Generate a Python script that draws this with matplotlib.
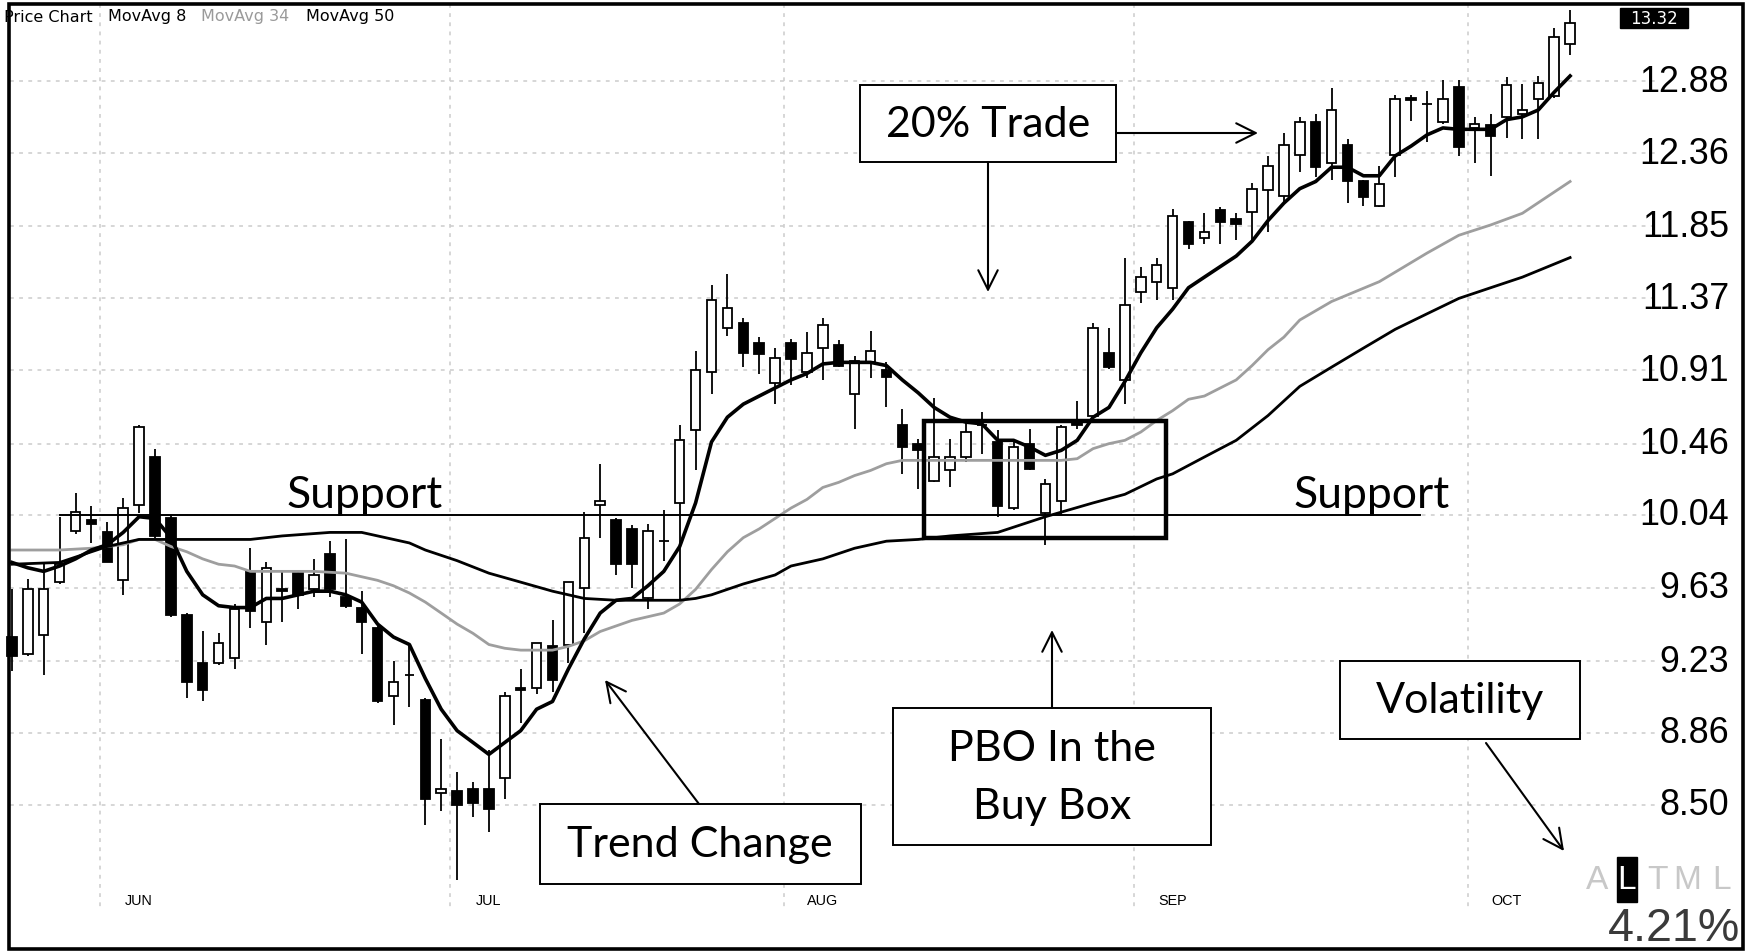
import numpy as np
import matplotlib
matplotlib.use('Agg')
import matplotlib.pyplot as plt
import matplotlib.transforms as mtransforms
from matplotlib import font_manager
from matplotlib.patches import Rectangle, FancyArrowPatch

# daily candles, Jun 2010 - Oct 2010 (first one is cut by the frame)
opens = [9.36, 9.27, 9.37, 9.66, 9.95, 10.01, 9.94, 9.67, 10.10, 10.38,
         10.02, 9.48, 9.22, 9.22, 9.25, 9.72, 9.44, 9.62, 9.71, 9.62,
         9.82, 9.58, 9.52, 9.41, 9.05, 9.16, 9.03, 8.56, 8.57, 8.58,
         8.58, 8.63, 9.09, 9.09, 9.31, 9.32, 9.63, 10.10, 10.01, 9.96,
         9.57, 9.89, 10.11, 10.54, 10.90, 11.18, 11.21, 11.08, 10.83, 11.08,
         10.90, 11.05, 11.07, 10.76, 10.96, 10.91, 10.57, 10.46, 10.24, 10.30,
         10.38, 10.57, 10.47, 10.08, 10.46, 10.05, 10.12, 10.60, 10.63, 11.02,
         10.85, 11.41, 11.48, 11.44, 11.88, 11.77, 11.96, 11.90, 11.95, 12.10,
         12.06, 12.35, 12.58, 12.29, 12.42, 12.16, 11.99, 12.35, 12.76, 12.71,
         12.58, 12.84, 12.54, 12.56, 12.62, 12.64, 12.75, 12.77, 13.16]
highs = [9.62, 9.68, 9.77, 10.03, 10.17, 10.09, 10.00, 10.14, 10.57, 10.43,
         10.04, 9.49, 9.39, 9.38, 9.54, 9.85, 9.77, 9.73, 9.72, 9.79,
         9.89, 9.90, 9.61, 9.42, 9.23, 9.31, 9.04, 8.83, 8.66, 8.61,
         8.77, 9.07, 9.19, 9.33, 9.45, 9.66, 10.06, 10.34, 10.02, 9.98,
         9.99, 10.07, 10.57, 11.03, 11.46, 11.53, 11.24, 11.12, 11.05, 11.11,
         11.15, 11.24, 11.10, 11.00, 11.16, 10.96, 10.67, 10.49, 10.74, 10.49,
         10.59, 10.65, 10.54, 10.47, 10.55, 10.25, 10.57, 10.72, 11.21, 11.18,
         11.64, 11.58, 11.64, 11.97, 11.89, 11.94, 11.98, 11.94, 12.15, 12.34,
         12.50, 12.62, 12.64, 12.83, 12.46, 12.17, 12.27, 12.78, 12.78, 12.81,
         12.89, 12.89, 12.62, 12.64, 12.91, 12.86, 12.92, 13.28, 13.42]
lows = [9.18, 9.26, 9.16, 9.65, 9.93, 9.88, 9.77, 9.59, 10.05, 9.91,
        9.47, 9.04, 9.02, 9.21, 9.19, 9.41, 9.32, 9.44, 9.51, 9.58,
        9.58, 9.52, 9.27, 9.01, 8.90, 8.99, 8.40, 8.47, 8.14, 8.44,
        8.37, 8.53, 8.91, 9.06, 9.07, 9.22, 9.38, 9.91, 9.70, 9.63,
        9.51, 9.78, 9.56, 10.30, 10.76, 11.13, 10.93, 10.89, 10.70, 10.82,
        10.86, 10.85, 10.93, 10.55, 10.86, 10.68, 10.28, 10.19, 10.23, 10.20,
        10.35, 10.40, 10.03, 10.07, 10.30, 9.87, 10.04, 10.55, 10.61, 10.92,
        10.70, 11.34, 11.36, 11.36, 11.70, 11.73, 11.73, 11.76, 11.75, 11.81,
        12.02, 12.23, 12.19, 12.17, 12.01, 11.99, 11.98, 12.19, 12.59, 12.44,
        12.57, 12.34, 12.29, 12.20, 12.47, 12.46, 12.46, 12.76, 13.08]
closes = [9.26, 9.62, 9.62, 9.76, 10.06, 9.99, 9.77, 10.08, 10.56, 9.92,
          9.48, 9.12, 9.08, 9.33, 9.51, 9.50, 9.74, 9.61, 9.59, 9.70,
          9.62, 9.53, 9.44, 9.02, 9.12, 9.16, 8.53, 8.58, 8.50, 8.51,
          8.48, 9.05, 9.08, 9.33, 9.13, 9.66, 9.91, 10.12, 9.76, 9.76,
          9.95, 9.89, 10.48, 10.91, 11.36, 11.31, 11.02, 11.01, 10.99, 10.98,
          11.02, 11.20, 10.94, 10.97, 11.03, 10.87, 10.44, 10.42, 10.38, 10.38,
          10.53, 10.57, 10.09, 10.44, 10.31, 10.22, 10.56, 10.57, 11.18, 10.93,
          11.33, 11.51, 11.59, 11.92, 11.73, 11.81, 11.88, 11.87, 12.11, 12.27,
          12.42, 12.58, 12.26, 12.67, 12.16, 12.05, 12.14, 12.75, 12.74, 12.71,
          12.75, 12.40, 12.57, 12.48, 12.85, 12.67, 12.87, 13.21, 13.32]

# moving averages
ma8 = [9.77, 9.74, 9.72, 9.75, 9.79, 9.84, 9.87, 9.94, 10.03, 10.02,
       9.91, 9.72, 9.59, 9.53, 9.52, 9.52, 9.57, 9.57, 9.59, 9.61,
       9.61, 9.59, 9.55, 9.43, 9.36, 9.32, 9.14, 8.98, 8.87, 8.81,
       8.75, 8.81, 8.87, 8.98, 9.02, 9.19, 9.35, 9.49, 9.56, 9.57,
       9.64, 9.72, 9.86, 10.11, 10.47, 10.62, 10.70, 10.75, 10.80, 10.85,
       10.89, 10.95, 10.96, 10.96, 10.96, 10.94, 10.85, 10.77, 10.68, 10.62,
       10.59, 10.58, 10.48, 10.48, 10.44, 10.39, 10.42, 10.48, 10.62, 10.68,
       10.84, 11.02, 11.18, 11.30, 11.44, 11.51, 11.58, 11.65, 11.75, 11.89,
       12.01, 12.11, 12.16, 12.26, 12.26, 12.20, 12.20, 12.34, 12.41, 12.49,
       12.54, 12.53, 12.53, 12.53, 12.60, 12.62, 12.67, 12.80, 12.92]
ma34_day = [1, 4, 6, 8, 9, 10, 11, 12, 13, 14, 15, 16, 18, 20, 22, 23, 24, 25, 26, 27,
            28, 29, 30, 31, 32, 33, 35, 36, 37, 38, 39, 40, 41, 42, 43, 44, 45, 46, 47, 48,
            49, 50, 51, 52, 53, 54, 55, 56, 57, 60, 67, 68, 69, 70, 71, 72, 73, 74, 75, 76,
            77, 78, 79, 80, 81, 82, 84, 87, 90, 92, 94, 96, 99]
ma34 = [9.84, 9.84, 9.85, 9.87, 9.90, 9.90, 9.86, 9.83, 9.79, 9.76, 9.75, 9.72, 9.72, 9.72, 9.71, 9.69, 9.67, 9.64, 9.60, 9.55,
        9.49, 9.43, 9.38, 9.32, 9.30, 9.29, 9.29, 9.31, 9.34, 9.39, 9.42, 9.45, 9.47, 9.49, 9.54, 9.62, 9.73, 9.83, 9.91, 9.96,
        10.02, 10.08, 10.13, 10.20, 10.23, 10.27, 10.30, 10.34, 10.36, 10.36, 10.36, 10.37, 10.43, 10.46, 10.48, 10.53, 10.60, 10.66, 10.73, 10.75,
        10.80, 10.85, 10.94, 11.04, 11.12, 11.23, 11.35, 11.48, 11.67, 11.79, 11.86, 11.94, 12.16]
ma50_day = [1, 4, 7, 9, 16, 18, 21, 23, 24, 26, 27, 29, 31, 33, 35, 37, 39, 43, 44, 45,
            46, 47, 49, 50, 52, 54, 56, 58, 60, 63, 66, 69, 71, 73, 74, 76, 78, 80, 82, 84,
            86, 88, 90, 92, 94, 96, 99]
ma50 = [9.76, 9.77, 9.86, 9.90, 9.90, 9.92, 9.94, 9.94, 9.92, 9.88, 9.84, 9.78, 9.71, 9.66, 9.61, 9.57, 9.56, 9.56, 9.57, 9.59,
        9.62, 9.65, 9.70, 9.75, 9.79, 9.85, 9.89, 9.90, 9.92, 9.94, 10.03, 10.11, 10.16, 10.25, 10.28, 10.38, 10.48, 10.63, 10.81, 10.93,
        11.05, 11.17, 11.27, 11.37, 11.44, 11.51, 11.64]

price_ticks = [8.50, 8.86, 9.23, 9.63, 10.04, 10.46, 10.91, 11.37, 11.85, 12.36, 12.88]
month_names = ['JUN', 'JUL', 'AUG', 'SEP', 'OCT']
month_first_day = [7, 29, 50, 72, 93]
support_level = 10.04
last_price = '13.32'
volatility = '4.21%'

W, H = 1746, 953
STEP = 15.9          # pixels per trading day
CAL = ['Lato', 'DejaVu Sans']

# the price scale uses a narrow face; pick the narrowest one that is installed
installed = {f.name for f in font_manager.fontManager.ttflist}
if 'Liberation Sans Narrow' in installed:
    NARROW, nscale = ['Liberation Sans Narrow', 'DejaVu Sans'], 1.0
elif 'DejaVu Sans Condensed' in installed:
    NARROW, nscale = ['DejaVu Sans Condensed', 'DejaVu Sans'], 0.86
else:
    NARROW, nscale = ['Liberation Sans', 'DejaVu Sans'], 0.86


def fx(px):
    return px / W


def fy(py):
    return 1 - py / H


def xd(px):
    # pixel column -> day number
    return (px + 4) / STEP


fig = plt.figure(figsize=(W / 100, H / 100), dpi=100)
ax = fig.add_axes([0, 0, 1, 1])
ax.set_yscale('log')
ax.axis('off')

tx = mtransforms.blended_transform_factory(ax.transData, ax.transAxes)
ty = mtransforms.blended_transform_factory(ax.transAxes, ax.transData)

grid_kw = dict(color='#cccccc', lw=1.1, ls=(0, (2.5, 3.5)), zorder=1)
for p in price_ticks:
    ax.plot([fx(10), fx(1655)], [p, p], transform=ty, **grid_kw)
    ax.text(fx(1729), p, f'{p:.2f}', transform=ty, ha='right', va='center',
            fontsize=30 * nscale, family=NARROW, color='black')
for d, name in zip(month_first_day, month_names):
    ax.plot([d - 0.45, d - 0.45], [fy(5), fy(912)], transform=tx, **grid_kw)
    ax.text(d + 2.0, fy(901), name, transform=tx, ha='center', va='center',
            fontsize=12 * nscale, family=NARROW, color='black')

# candles
days = np.arange(1, len(opens) + 1)
o = np.array(opens)
c = np.array(closes)
lo_b = np.minimum(o, c)
hi_b = np.maximum(o, c)
up = c >= o
ax.vlines(days, lows, highs, color='black', lw=1.3, zorder=2)
ax.bar(days[up], (hi_b - lo_b)[up], bottom=lo_b[up], width=0.6,
       facecolor='white', edgecolor='black', lw=1.3, zorder=3)
ax.bar(days[~up], (hi_b - lo_b)[~up], bottom=lo_b[~up], width=0.6,
       facecolor='black', edgecolor='black', lw=1.3, zorder=3)

ax.plot(ma34_day, ma34, color='#9e9e9e', lw=2.0, zorder=4)
ax.plot(ma50_day, ma50, color='black', lw=2.0, zorder=4)
ax.plot(days, ma8, color='black', lw=2.6, zorder=4)

ax.set_xlim(xd(0), xd(W))
ax.set_ylim(7.811, 13.504)

# support line and buy box
ax.plot([xd(60), xd(1420)], [support_level, support_level], color='black', lw=1.4, zorder=5)
ax.add_patch(Rectangle((xd(924), 9.91), xd(1166) - xd(924), 10.60 - 9.91,
                       fill=False, ec='black', lw=3.2, zorder=6))
for cx in (365, 1372):
    ax.text(fx(cx), fy(508), 'Support', transform=ax.transAxes, ha='center',
            va='baseline', fontsize=32, family=CAL, zorder=6)


def note_box(x0, y0, x1, y1):
    ax.add_patch(Rectangle((fx(x0), fy(y1)), fx(x1) - fx(x0), fy(y0) - fy(y1),
                           transform=ax.transAxes, fc='white', ec='black', lw=1.4, zorder=7))


def arrow(x0, y0, x1, y1):
    ax.add_patch(FancyArrowPatch((fx(x0), fy(y0)), (fx(x1), fy(y1)), transform=ax.transAxes,
                                 arrowstyle='->,head_length=0.7,head_width=0.35',
                                 mutation_scale=20, lw=1.5, color='black',
                                 shrinkA=0, shrinkB=0, zorder=7))


note_box(860, 86, 1116, 163)
ax.text(fx(988), fy(125), '20% Trade', transform=ax.transAxes, ha='center', va='center',
        fontsize=31, family=CAL, zorder=8)
arrow(1116, 134, 1258, 134)
arrow(988, 163, 988, 293)

note_box(893, 709, 1211, 846)
ax.text(fx(1052), fy(749), 'PBO In the', transform=ax.transAxes, ha='center', va='center',
        fontsize=31, family=CAL, zorder=8)
ax.text(fx(1052), fy(807), 'Buy Box', transform=ax.transAxes, ha='center', va='center',
        fontsize=31, family=CAL, zorder=8)
arrow(1052, 709, 1052, 631)

note_box(540, 805, 861, 885)
ax.text(fx(700), fy(845), 'Trend Change', transform=ax.transAxes, ha='center', va='center',
        fontsize=31, family=CAL, zorder=8)
arrow(699, 805, 605, 681)

note_box(1340, 662, 1580, 740)
ax.text(fx(1460), fy(701), 'Volatility', transform=ax.transAxes, ha='center', va='center',
        fontsize=31, family=CAL, zorder=8)
arrow(1486, 744, 1564, 852)

# header line
for xs, s, col in [(4, 'Price Chart', 'black'), (108, 'MovAvg 8', 'black'),
                   (201, 'MovAvg 34', '#9a9a9a'), (306, 'MovAvg 50', 'black')]:
    ax.text(fx(xs), fy(17), s, transform=ax.transAxes, ha='left', va='center',
            fontsize=11.5, family=['DejaVu Sans'], color=col, zorder=8)

# last price tag
ax.add_patch(Rectangle((fx(1620), fy(29)), fx(1688) - fx(1620), fy(9) - fy(29),
                       transform=ax.transAxes, fc='black', ec='black', zorder=8))
ax.text(fx(1654), fy(19), last_price, transform=ax.transAxes, ha='center', va='center',
        fontsize=12, family=['DejaVu Sans'], color='white', zorder=9)

# volatility readout
ax.add_patch(Rectangle((fx(1617), fy(903)), fx(1637) - fx(1617), fy(858) - fy(903),
                       transform=ax.transAxes, fc='black', ec='black', zorder=8))
for cx, ch, col in [(1597, 'A', '#c8c8c8'), (1627, 'L', 'white'), (1657, 'T', '#c8c8c8'),
                    (1687, 'M', '#c8c8c8'), (1722, 'L', '#c8c8c8')]:
    ax.text(fx(cx), fy(881), ch, transform=ax.transAxes, ha='center', va='center',
            fontsize=28 * nscale, family=NARROW, color=col, zorder=9)
ax.text(fx(1740), fy(929), volatility, transform=ax.transAxes, ha='right', va='center',
        fontsize=39 * nscale, family=NARROW, color='#3a3a3a', zorder=9)

# outer frame
ax.add_patch(Rectangle((fx(9), fy(950)), fx(1743) - fx(9), fy(5) - fy(950),
                       transform=ax.transAxes, fill=False, ec='black', lw=2.6, zorder=10))

fig.savefig('out.png', dpi=100)
